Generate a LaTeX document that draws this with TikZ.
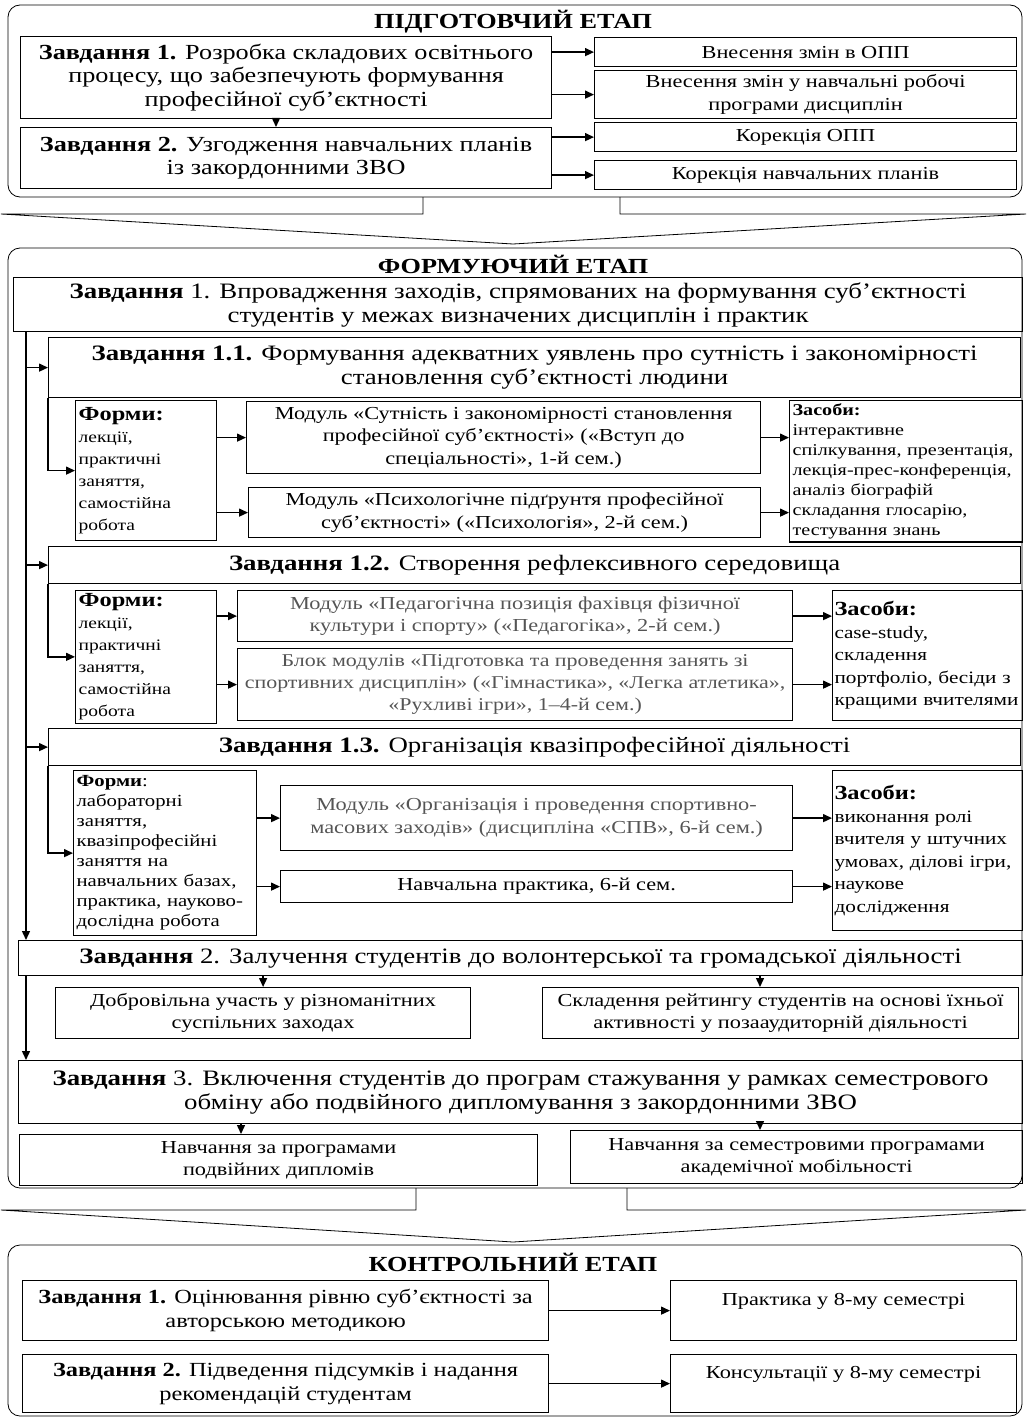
\documentclass[tikz,border=0pt]{standalone}
\usepackage{fontspec}
\setmainfont[FakeStretch=1.22]{Liberation Serif}
\usepackage{tikz}
\usetikzlibrary{arrows.meta, positioning, calc}
\definecolor{modgrey}{RGB}{85,85,85}
\newcommand{\titlefont}{\fontsize{21.5}{24}\selectfont\bfseries}
\newcommand{\taskfont}{\fontsize{21.5}{23.5}\selectfont}
\newcommand{\bigtaskfont}{\fontsize{22}{24}\selectfont}
\newcommand{\ctrlfont}{\fontsize{20}{24}\selectfont}
\newcommand{\modfont}{\fontsize{18.3}{22.5}\selectfont}
\newcommand{\formfont}{\fontsize{16}{22}\selectfont}
\newcommand{\meansfont}{\fontsize{17.4}{22.5}\selectfont}
\newcommand{\tinyfont}{\fontsize{16.5}{20}\selectfont}
\newcommand{\headfont}{\fontsize{20}{22}\selectfont\bfseries}
\tikzset{
	>={Triangle[length=9pt,width=8pt]},
	box/.style={draw, line width=1.2pt, align=center, anchor=north west, inner sep=2pt, font=\taskfont},
	modbox/.style={box, font=\modfont},
	listbox/.style={draw, line width=1.2pt, align=left, anchor=north west, inner sep=3pt, font=\formfont},
	stage/.style={draw, line width=0.8pt, rounded corners=12pt},
	title/.style={font=\titlefont, inner sep=0pt},
	arr/.style={->, line width=1.4pt},
	bigarrow/.style={draw, line width=0.8pt},
}

\begin{document}
\begin{tikzpicture}[x=1pt, y=-1pt]
	\useasboundingbox (0,0) rectangle (1027,1418);
	
	% stage 1
	\draw[stage] (8,5) rectangle (1022,197);
	\node[title] (st1) at (513,22) {ПІДГОТОВЧИЙ ЕТАП};
	\node[box, minimum width=531, minimum height=82] (t1) at (20,36) {\textbf{Завдання 1.} Розробка складових освітнього\\процесу, що забезпечують формування\\професійної суб’єктності};
	\node[box, minimum width=531, minimum height=61] (t2) at (20,127) {\textbf{Завдання 2.} Узгодження навчальних планів\\із закордонними ЗВО};
	\node[modbox, minimum width=422, minimum height=29] (r1) at (594,37) {Внесення змін в ОПП};
	\node[modbox, minimum width=422, minimum height=48] (r2) at (594,70) {Внесення змін у навчальні робочі\\програми дисциплін};
	\node[modbox, minimum width=422, minimum height=29] (r3) at (594,122) {Корекція ОПП};
	\node[modbox, minimum width=422, minimum height=29] (r4) at (594,160) {Корекція навчальних планів};
	
	\draw[arr] (t1.east |- r1.west) -- (r1.west);
	\draw[arr] (t1.east |- r2.west) -- (r2.west);
	\draw[arr] (t2.east |- r3.west) -- (r3.west);
	\draw[arr] (t2.east |- r4.west) -- (r4.west);
	\draw[arr] (t1.south -| 276,0) -- (t2.north -| 276,0);
	
	\draw[bigarrow] (423,197) -- (423,214) -- (1,214) -- (513,244) -- (1026,214) -- (620,214) -- (620,197);
	
	% stage 2
	\draw[stage] (8,248) rectangle (1022,1188);
	\node[title] (st2) at (513,264) {ФОРМУЮЧИЙ ЕТАП};
	\node[box, font=\bigtaskfont, minimum width=1009, minimum height=54] (z1) at (13,277) {\textbf{Завдання} 1. Впровадження заходів, спрямованих на формування суб’єктності\\студентів у межах визначених дисциплін і практик};
	
	\node[box, font=\bigtaskfont, minimum width=972, minimum height=60] (z11) at (48,337) {\textbf{Завдання 1.1.} Формування адекватних уявлень про сутність і закономірності\\становлення суб’єктності людини};
	\node[listbox, text width=135, minimum height=140] (f1) at (75,400) {{\headfont Форми:}\\лекції,\\практичні\\заняття,\\самостійна\\робота};
	\node[modbox, minimum width=514, minimum height=72] (m1) at (246,401) {Модуль «Сутність і закономірності становлення\\професійної суб’єктності» («Вступ до\\спеціальності», 1-й сем.)};
	\node[modbox, minimum width=512, minimum height=50] (m2) at (248,487) {Модуль «Психологічне підґрунтя професійної\\суб’єктності» («Психологія», 2-й сем.)};
	\node[listbox, font=\tinyfont, text width=227, minimum height=140] (s1) at (789,400) {\textbf{Засоби:}\\інтерактивне\\спілкування, презентація,\\лекція-прес-конференція,\\аналіз біографій\\складання глосарію,\\тестування знань};
	
	\node[box, font=\bigtaskfont, minimum width=972, minimum height=37] (z12) at (48,546) {\textbf{Завдання 1.2.} Створення рефлексивного середовища};
	\node[listbox, text width=135, minimum height=130] (f2) at (75,590) {{\headfont Форми:}\\лекції,\\практичні\\заняття,\\самостійна\\робота};
	\node[modbox, text=modgrey, minimum width=555, minimum height=51] (m3) at (237,590) {Модуль «Педагогічна позиція фахівця фізичної\\культури і спорту» («Педагогіка», 2-й сем.)};
	\node[modbox, font=\fontsize{18}{22}\selectfont, text=modgrey, minimum width=555, minimum height=72] (m4) at (237,648) {Блок модулів «Підготовка та проведення занять зі\\спортивних дисциплін» («Гімнастика», «Легка атлетика»,\\«Рухливі ігри», 1–4-й сем.)};
	\node[listbox, font=\meansfont, inner sep=2pt, text width=186, minimum height=130] (s2) at (832,590) {{\headfont Засоби:}\\case-study,\\складення\\портфоліо, бесіди з\\кращими вчителями};
	
	\node[box, font=\bigtaskfont, minimum width=972, minimum height=37] (z13) at (48,728) {\textbf{Завдання 1.3.} Організація квазіпрофесійної діяльності};
	\node[listbox, font=\fontsize{17}{20}\selectfont, text width=177, minimum height=165] (f3) at (73,770) {\textbf{Форми}:\\лабораторні\\заняття,\\квазіпрофесійні\\заняття на\\навчальних базах,\\практика, науково-\\дослідна робота};
	\node[modbox, text=modgrey, minimum width=512, minimum height=65] (m5) at (280,785) {Модуль «Організація і проведення спортивно-\\масових заходів» (дисципліна «СПВ», 6-й сем.)};
	\node[modbox, minimum width=512, minimum height=32] (m6) at (280,870) {Навчальна практика, 6-й сем.};
	\node[listbox, font=\meansfont, inner sep=2pt, text width=186, minimum height=160] (s3) at (832,770) {{\headfont Засоби:}\\виконання ролі\\вчителя у штучних\\умовах, ділові ігри,\\наукове\\дослідження};
	
	\node[box, font=\bigtaskfont, minimum width=1004, minimum height=35] (z2) at (18,940) {\textbf{Завдання} 2. Залучення студентів до волонтерської та громадської діяльності};
	\node[modbox, minimum width=415, minimum height=51] (d1) at (55,987) {Добровільна участь у різноманітних\\суспільних заходах};
	\node[modbox, minimum width=476, minimum height=51] (d2) at (542,987) {Складення рейтингу студентів на основі їхньої\\активності у позааудиторній діяльності};
	
	\node[box, font=\bigtaskfont, minimum width=1004, minimum height=63] (z3) at (18,1060) {\textbf{Завдання} 3. Включення студентів до програм стажування у рамках семестрового\\обміну або подвійного дипломування з закордонними ЗВО};
	\node[modbox, minimum width=518, minimum height=51] (n1) at (19,1134) {Навчання за програмами\\подвійних дипломів};
	\node[modbox, minimum width=452, minimum height=53] (n2) at (570,1130) {Навчання за семестровими програмами\\академічної мобільності};
	
	% trunk and branches
	\draw[arr] (z1.south -| 26,0) -- (z2.north -| 26,0);
	\draw[arr] (26,0 |- z11.west) -- (z11.west);
	\draw[arr] (26,0 |- z12.west) -- (z12.west);
	\draw[arr] (26,0 |- z13.west) -- (z13.west);
	\draw[arr] (z11.south west) |- (f1.west);
	\draw[arr] (z12.south west) |- (f2.west);
	\draw[arr] (z13.south west) |- (f3.west);
	
	\draw[arr] (f1.east |- m1.west) -- (m1.west);
	\draw[arr] (f1.east |- m2.west) -- (m2.west);
	\draw[arr] (m1.east) -- (s1.west |- m1.east);
	\draw[arr] (m2.east) -- (s1.west |- m2.east);
	\draw[arr] (f2.east |- m3.west) -- (m3.west);
	\draw[arr] (f2.east |- m4.west) -- (m4.west);
	\draw[arr] (m3.east) -- (s2.west |- m3.east);
	\draw[arr] (m4.east) -- (s2.west |- m4.east);
	\draw[arr] (f3.east |- m5.west) -- (m5.west);
	\draw[arr] (f3.east |- m6.west) -- (m6.west);
	\draw[arr] (m5.east) -- (s3.west |- m5.east);
	\draw[arr] (m6.east) -- (s3.west |- m6.east);
	
	\draw[arr] (z2.south -| d1.north) -- (d1.north);
	\draw[arr] (z2.south -| 760,0) -- (d2.north -| 760,0);
	\draw[arr] (z2.south -| 26,0) -- (z3.north -| 26,0);
	\draw[arr] (z3.south -| 241,0) -- (n1.north -| 241,0);
	\draw[arr] (z3.south -| 760,0) -- (n2.north -| 760,0);
	
	\draw[bigarrow] (416,1188) -- (416,1210) -- (1,1210) -- (513,1242) -- (1026,1210) -- (627,1210) -- (627,1188);
	
	% stage 3
	\draw[stage] (8,1245) rectangle (1022,1416);
	\node[title] (st3) at (513,1262) {КОНТРОЛЬНИЙ ЕТАП};
	\node[box, font=\ctrlfont, minimum width=526, minimum height=60] (k1) at (22,1280) {\textbf{Завдання 1.} Оцінювання рівню суб’єктності за\\авторською методикою};
	\node[modbox, minimum width=346, minimum height=60] (p1) at (670,1280) {Практика у 8-му семестрі\\~};
	\node[box, font=\ctrlfont, minimum width=526, minimum height=58] (k2) at (22,1354) {\textbf{Завдання 2.} Підведення підсумків і надання\\рекомендацій студентам};
	\node[modbox, minimum width=346, minimum height=58] (p2) at (670,1354) {Консультації у 8-му семестрі\\~};
	
	\draw[arr] (k1.east) -- (p1.west);
	\draw[arr] (k2.east) -- (p2.west);
	
\end{tikzpicture}
\end{document}
